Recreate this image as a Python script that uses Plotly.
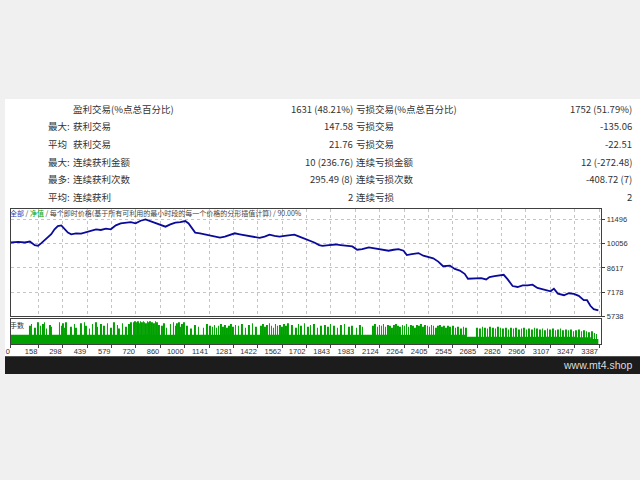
import plotly.graph_objects as go

# ---------------- data ----------------
eq_trade = [0, 42, 80, 109, 137, 156, 175, 194, 213, 232, 251, 270, 290, 309, 328, 347, 375, 404, 432, 461,
            490, 518, 547, 575, 604, 632, 661, 690, 718, 747, 775, 804, 832, 861, 890, 918, 947, 975, 1004, 1023,
            1042, 1061, 1089, 1118, 1147, 1175, 1204, 1232, 1261, 1289, 1318, 1347, 1375, 1404, 1432, 1461, 1489, 1518, 1547, 1575,
            1604, 1632, 1661, 1689, 1718, 1747, 1775, 1794, 1832, 1870, 1899, 1928, 1966, 1994, 2023, 2061, 2099, 2137, 2175, 2204,
            2232, 2261, 2280, 2308, 2347, 2375, 2404, 2432, 2461, 2489, 2528, 2556, 2585, 2613, 2632, 2670, 2708, 2737, 2756, 2785,
            2813, 2838, 2861, 2889, 2918, 2947, 2975, 3004, 3032, 3070, 3108, 3127, 3150, 3185, 3213, 3242, 3270, 3299, 3318, 3337,
            3356, 3383]
eq_value = [10134, 10173, 10134, 10193, 9976, 9937, 10094, 10291, 10429, 10625, 10920, 11117, 11156, 10960, 10724, 10625, 10684, 10665, 10763, 10822,
            10920, 10881, 10960, 10920, 11156, 11274, 11314, 11353, 11274, 11432, 11510, 11412, 11314, 11215, 11078, 11215, 11314, 11353, 11412, 11274,
            10960, 10724, 10684, 10625, 10566, 10527, 10429, 10488, 10606, 10684, 10625, 10566, 10527, 10468, 10409, 10488, 10606, 10527, 10488, 10527,
            10566, 10606, 10488, 10370, 10291, 10134, 9976, 9937, 9976, 10016, 9976, 9937, 9898, 9701, 9740, 9839, 9780, 9681, 9642, 9701,
            9740, 9642, 9386, 9445, 9504, 9347, 9249, 9190, 8993, 8718, 8757, 8560, 8462, 8265, 7970, 7970, 8010, 7931, 8069, 8128,
            8167, 8206, 7931, 7538, 7479, 7577, 7577, 7616, 7420, 7302, 7223, 7380, 7085, 6987, 7105, 7066, 6948, 6692, 6692, 6358,
            6161, 6082]

base_trade = [0, 2620, 3250, 3340, 3383]
base_lot = [0.10, 0.08, 0.075, 0.055, 0.045]

spikes = [
    (108, 0.20), (118, 0.22), (137, 0.18), (156, 0.24), (171, 0.20), (185, 0.22), (194, 0.24), (204, 0.17), (223, 0.21), (232, 0.19),
    (280, 0.24), (290, 0.20), (299, 0.23), (309, 0.18), (318, 0.24), (347, 0.19), (366, 0.22), (375, 0.18), (404, 0.23), (423, 0.24),
    (432, 0.20), (451, 0.17), (470, 0.22), (490, 0.24), (499, 0.19), (518, 0.22), (537, 0.20), (556, 0.23), (575, 0.18), (594, 0.24),
    (613, 0.21), (623, 0.17), (642, 0.23), (661, 0.19), (680, 0.22), (690, 0.24), (705, 0.24), (714, 0.25), (722, 0.24), (730, 0.25),
    (738, 0.23), (746, 0.25), (754, 0.24), (762, 0.25), (770, 0.24), (778, 0.23), (786, 0.25), (794, 0.24), (802, 0.25), (812, 0.24),
    (822, 0.23), (832, 0.25), (842, 0.24), (852, 0.21), (870, 0.20), (880, 0.23), (895, 0.18), (918, 0.22), (937, 0.24), (947, 0.20),
    (956, 0.23), (966, 0.24), (975, 0.19), (985, 0.22), (995, 0.24), (1015, 0.20), (1035, 0.17), (1060, 0.21), (1080, 0.19), (1109, 0.18),
    (1128, 0.22), (1147, 0.20), (1160, 0.19), (1172, 0.21), (1184, 0.18), (1196, 0.20), (1208, 0.22), (1220, 0.19), (1232, 0.21), (1244, 0.18),
    (1256, 0.20), (1268, 0.22), (1280, 0.19), (1292, 0.21), (1310, 0.20), (1330, 0.22), (1350, 0.18), (1370, 0.21), (1390, 0.23), (1410, 0.19),
    (1440, 0.20), (1452, 0.22), (1464, 0.19), (1476, 0.21), (1488, 0.23), (1500, 0.20), (1512, 0.18), (1524, 0.22), (1536, 0.20), (1548, 0.21),
    (1560, 0.19), (1572, 0.22), (1584, 0.20), (1596, 0.23), (1620, 0.21), (1640, 0.18), (1655, 0.22), (1670, 0.20), (1690, 0.23), (1710, 0.19),
    (1725, 0.21), (1745, 0.22), (1765, 0.18), (1785, 0.20), (1810, 0.21), (1825, 0.19), (1840, 0.22), (1860, 0.20), (1880, 0.18), (1900, 0.21),
    (1920, 0.22), (1945, 0.19), (1965, 0.20), (1990, 0.18), (2010, 0.21), (2025, 0.19), (2085, 0.20), (2098, 0.22), (2110, 0.19), (2122, 0.21),
    (2134, 0.20), (2146, 0.22), (2158, 0.19), (2170, 0.21), (2182, 0.20), (2194, 0.18), (2206, 0.21), (2218, 0.22), (2230, 0.20), (2242, 0.19),
    (2254, 0.21), (2266, 0.20), (2278, 0.22), (2290, 0.19), (2302, 0.21), (2314, 0.20), (2326, 0.18), (2338, 0.21), (2350, 0.20), (2362, 0.22),
    (2374, 0.19), (2386, 0.21), (2398, 0.20), (2410, 0.19), (2422, 0.21), (2434, 0.20), (2446, 0.18), (2458, 0.20), (2470, 0.21), (2482, 0.19),
    (2494, 0.20), (2506, 0.18), (2518, 0.20), (2530, 0.19), (2545, 0.20), (2560, 0.18), (2575, 0.19), (2590, 0.17), (2605, 0.19), (2620, 0.18),
    (2685, 0.18), (2700, 0.17), (2715, 0.19), (2730, 0.18), (2745, 0.17), (2760, 0.19), (2775, 0.18), (2790, 0.17), (2805, 0.19), (2820, 0.18),
    (2835, 0.17), (2850, 0.18), (2865, 0.16), (2880, 0.18), (2895, 0.17), (2910, 0.18), (2925, 0.16), (2940, 0.17), (2955, 0.18), (2970, 0.16),
    (2985, 0.17), (3000, 0.16), (3015, 0.18), (3030, 0.17), (3045, 0.16), (3060, 0.17), (3075, 0.15), (3090, 0.17), (3105, 0.16), (3120, 0.17),
    (3135, 0.15), (3150, 0.16), (3165, 0.17), (3180, 0.15), (3195, 0.16), (3210, 0.15), (3225, 0.16), (3240, 0.14), (3255, 0.15), (3270, 0.16),
    (3285, 0.14), (3300, 0.15), (3315, 0.14), (3330, 0.13), (3345, 0.14), (3360, 0.12), (3372, 0.11),
]
spike_trade = [s[0] for s in spikes]
spike_lot = [s[1] for s in spikes]

x_tick_vals = [0, 158, 298, 439, 579, 720, 860, 1000, 1141, 1281, 1422, 1562, 1702, 1843, 1983,
               2124, 2264, 2405, 2545, 2685, 2826, 2966, 3107, 3247, 3387]
x_tick_text = [str(v) for v in x_tick_vals]
y_tick_vals = [5738, 7178, 8617, 10056, 11496]
y_tick_text = [str(v) for v in y_tick_vals]

row_prefix = ["", "最大:", "平均", "最大:", "最多:", "平均:"]
left_label = ["盈利交易(%点总百分比)", "获利交易", "获利交易", "连续获利金额", "连续获利次数", "连续获利"]
left_value = ["1631 (48.21%)", "147.58", "21.76", "10 (236.76)", "295.49 (8)", "2"]
right_label = ["亏损交易(%点总百分比)", "亏损交易", "亏损交易", "连续亏损金额", "连续亏损次数", "连续亏损"]
right_value = ["1752 (51.79%)", "-135.06", "-22.51", "12 (-272.48)", "-408.72 (7)", "2"]

# ---------------- layout helpers ----------------
W, H = 640, 480


def fy(p):
    return 1 - p / H


def fx(p):
    return p / W


CJK = "Noto Sans CJK SC"
NUM = "Liberation Sans"
TXT = "#333333"

fig = go.Figure()
fig.add_trace(go.Scatter(x=base_trade, y=base_lot, mode="lines",
                         line=dict(width=0, shape="hv", color="#00a000"),
                         fill="tozeroy", fillcolor="#00a000",
                         xaxis="x2", yaxis="y2", hoverinfo="skip"))
fig.add_trace(go.Bar(x=spike_trade, y=spike_lot, width=3.5,
                     marker=dict(color="#00a000", line=dict(width=0)),
                     xaxis="x2", yaxis="y2", hoverinfo="skip"))
fig.add_trace(go.Scatter(x=eq_trade, y=eq_value, mode="lines",
                         line=dict(color="#0a0a9a", width=1.8),
                         xaxis="x", yaxis="y", hoverinfo="skip"))

xdom = [fx(6), fx(601)]
frame = dict(showline=True, mirror=True, linecolor="#404040", linewidth=1, zeroline=False)
grid = dict(showgrid=True, gridcolor="#c4c4c4", griddash="3px,3px", gridwidth=1)

fig.update_layout(
    width=W, height=H, autosize=False,
    margin=dict(l=0, r=0, t=0, b=0),
    paper_bgcolor="#f0f0f0", plot_bgcolor="white",
    showlegend=False,
    xaxis=dict(domain=xdom, range=[0, 3400], anchor="y", tickvals=x_tick_vals,
               showticklabels=False, ticks="", **frame, **grid),
    yaxis=dict(domain=[fy(319.5), fy(211)], range=[5738, 12145], anchor="x", side="right",
               tickvals=y_tick_vals, ticktext=y_tick_text, ticks="outside", ticklen=3, tickcolor="#404040",
               tickfont=dict(family=NUM, size=7.5, color=TXT), **frame, **grid),
    xaxis2=dict(domain=xdom, range=[0, 3400], anchor="y2", tickvals=x_tick_vals, ticktext=x_tick_text,
                ticklabelposition="outside left", ticks="outside", ticklen=3, tickcolor="#404040",
                tickangle=0, tickfont=dict(family=NUM, size=7.5, color=TXT), showgrid=False, **frame),
    yaxis2=dict(domain=[fy(347.5), fy(322)], range=[0, 0.28], anchor="x2",
                showticklabels=False, ticks="", showgrid=False, **frame),
    shapes=[
        dict(type="rect", xref="paper", yref="paper", x0=0, x1=1, y0=fy(360), y1=fy(100),
             fillcolor="white", line=dict(width=0), layer="below"),
        dict(type="rect", xref="paper", yref="paper", x0=0, x1=1, y0=fy(378), y1=fy(360),
             fillcolor="#1c1c1c", line=dict(width=0), layer="below"),
    ],
)

ann = []
row_y = [110, 127.7, 145.5, 163.3, 181, 199]
for i, ry in enumerate(row_y):
    y = fy(ry)
    if row_prefix[i]:
        ann.append(dict(x=fx(42), y=y, text=row_prefix[i], xanchor="left"))
    ann.append(dict(x=fx(68), y=y, text=left_label[i], xanchor="left"))
    ann.append(dict(x=fx(352), y=y, text=left_value[i], xanchor="right"))
    ann.append(dict(x=fx(352.5), y=y, text=right_label[i], xanchor="left"))
    ann.append(dict(x=fx(633), y=y, text=right_value[i], xanchor="right"))
for a in ann:
    a.update(xref="paper", yref="paper", yanchor="middle", showarrow=False,
             font=dict(family=CJK, size=9.5, color=TXT), borderpad=0)

title = ('<span style="color:#3a3ab8">全部</span> / <span style="color:#00a000">净值</span> / '
         '每个即时价格(基于所有可利用的最小时段的每一个价格的分形插值计算) / 90.00%')
ann.append(dict(xref="paper", yref="paper", x=fx(4), y=fy(215.5), text=title, xanchor="left",
                yanchor="middle", showarrow=False, borderpad=0,
                font=dict(family=CJK, size=7, color="#444444")))
ann.append(dict(xref="paper", yref="paper", x=fx(4), y=fy(328), text="手数", xanchor="left",
                yanchor="middle", showarrow=False, borderpad=0,
                font=dict(family=CJK, size=7, color="#333333")))
ann.append(dict(xref="paper", yref="paper", x=fx(633), y=fy(369), text="www.mt4.shop", xanchor="right",
                yanchor="middle", showarrow=False, borderpad=0,
                font=dict(family=NUM, size=10.5, color="#dddddd")))
fig.update_layout(annotations=ann)

fig.write_html("out.html", config={"displayModeBar": False},
               post_script="document.body.style.margin='0';document.body.style.overflow='hidden';")
